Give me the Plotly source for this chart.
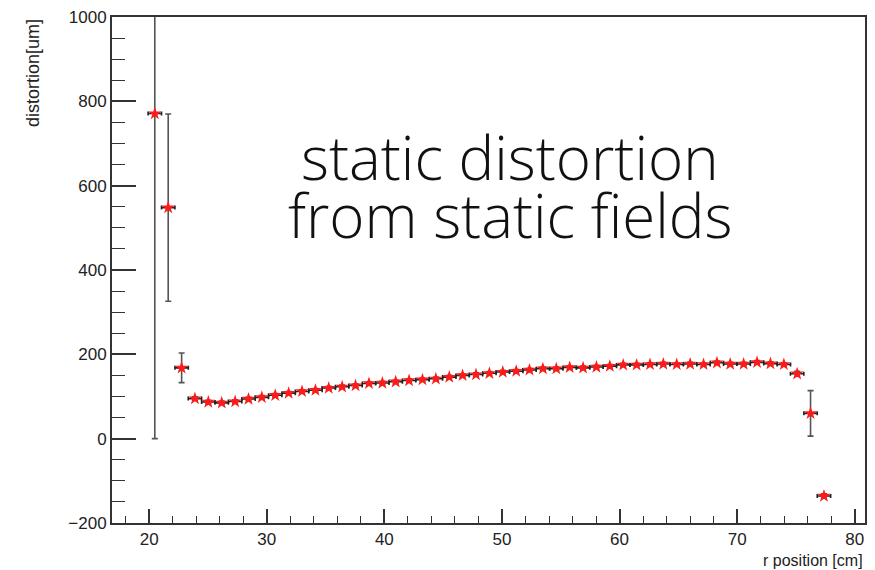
import plotly.graph_objects as go

# r position bin centres [cm]
r_pos = [20.48, 21.62, 22.76, 23.89, 25.03, 26.17, 27.31, 28.45, 29.58, 30.72,
         31.86, 33.00, 34.14, 35.27, 36.41, 37.55, 38.69, 39.83, 40.96, 42.10,
         43.24, 44.38, 45.52, 46.65, 47.79, 48.93, 50.07, 51.21, 52.34, 53.48,
         54.62, 55.76, 56.90, 58.03, 59.17, 60.31, 61.45, 62.59, 63.72, 64.86,
         66.00, 67.14, 68.28, 69.41, 70.55, 71.69, 72.83, 73.97, 75.10, 76.24,
         77.38]
# distortion [um]
distortion = [771, 548, 168, 95, 87, 85, 88, 94, 98, 103,
              108, 112, 115, 120, 123, 126, 131, 132, 135, 138,
              140, 142, 146, 150, 152, 155, 158, 160, 163, 166,
              166, 169, 168, 170, 172, 175, 175, 176, 177, 176,
              177, 176, 180, 177, 177, 181, 178, 176, 154, 60,
              -136]
# vertical errors [um]
dist_err = [771, 222, 35, 4, 4, 4, 4, 4, 4, 4,
            4, 4, 4, 4, 4, 4, 4, 4, 4, 4,
            4, 4, 4, 4, 4, 4, 4, 4, 4, 4,
            4, 4, 4, 4, 4, 4, 4, 4, 4, 4,
            4, 4, 4, 4, 4, 4, 4, 4, 6, 54,
            5]
half_bin = 0.57

y_ticks = [-200, 0, 200, 400, 600, 800, 1000]
x_ticks = [20, 30, 40, 50, 60, 70, 80]

fig = go.Figure()
fig.add_trace(go.Scatter(
    x=r_pos, y=distortion,
    mode="markers",
    marker=dict(symbol="star", size=10, color="#ff1a1a", line=dict(width=0)),
    error_y=dict(type="data", array=dist_err, symmetric=True,
                 color="#555555", thickness=1.6, width=3),
    error_x=dict(type="constant", value=half_bin,
                 color="#222222", thickness=1.6, width=2),
    showlegend=False,
))

axis_font = dict(family="Liberation Sans, Arial, sans-serif", size=17, color="#222222")

fig.update_xaxes(
    range=[16.84, 80.87], tickvals=x_ticks, ticktext=[str(v) for v in x_ticks],
    ticks="inside", ticklen=14, tickwidth=1.6, tickcolor="#333333",
    minor=dict(ticks="inside", ticklen=7, tickwidth=1.4, tickcolor="#333333", dtick=2, tick0=0),
    showline=True, linecolor="#333333", linewidth=2, mirror=True,
    showgrid=False, zeroline=False, tickfont=axis_font,
)
fig.update_yaxes(
    range=[-200, 1000], tickvals=y_ticks, ticktext=[str(v) if v >= 0 else "\u2212" + str(-v) for v in y_ticks],
    ticks="inside", ticklen=24, tickwidth=1.6, tickcolor="#333333",
    minor=dict(ticks="inside", ticklen=13, tickwidth=1.4, tickcolor="#333333", dtick=50, tick0=0),
    showline=True, linecolor="#333333", linewidth=2, mirror=True,
    showgrid=False, zeroline=False, tickfont=axis_font,
)

xtitle_font = dict(family="Liberation Sans, Arial, sans-serif", size=16, color="#222222")
ytitle_font = dict(family="Liberation Sans, Arial, sans-serif", size=18, color="#222222")
big_font = dict(family="Open Sans, Roboto, Lato, sans-serif", size=60, color="#111111", weight=300)

fig.update_layout(
    width=875, height=570,
    margin=dict(l=112, r=8, t=12, b=47),
    paper_bgcolor="white", plot_bgcolor="white",
    annotations=[
        dict(text="r position [cm]", xref="paper", yref="paper", x=1.0, y=0.0,
             xanchor="right", yanchor="middle", yshift=-37, showarrow=False, font=xtitle_font),
        dict(text="distortion[um]", xref="paper", yref="paper", x=0.0, y=1.0,
             xanchor="center", yanchor="top", xshift=-79, textangle=-90,
             showarrow=False, font=ytitle_font),
        dict(text="static distortion", xref="paper", yref="paper", x=0.528, y=1.0,
             xanchor="center", yanchor="middle", yshift=-140, showarrow=False, font=big_font),
        dict(text="from static fields", xref="paper", yref="paper", x=0.528, y=1.0,
             xanchor="center", yanchor="middle", yshift=-198, showarrow=False, font=big_font),
    ],
)

fig.write_html("out.html")
